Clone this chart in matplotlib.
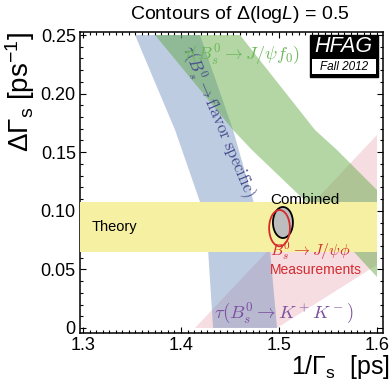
import numpy as np
import matplotlib.pyplot as plt
from matplotlib.patches import Ellipse, Rectangle
from matplotlib.ticker import MultipleLocator

plt.rcParams['font.family'] = ['Liberation Sans', 'DejaVu Sans']
plt.rcParams['mathtext.fontset'] = 'custom'
plt.rcParams['mathtext.rm'] = 'Liberation Sans'
plt.rcParams['mathtext.it'] = 'Liberation Sans:italic'
plt.rcParams['mathtext.bf'] = 'Liberation Sans:bold'

# tau(Bs -> flavour specific) band, left and right edges
fs_left_x = [1.3531, 1.3939, 1.4194, 1.4276, 1.4327]
fs_left_y = [0.25, 0.169, 0.1075, 0.0666, 0.0]
fs_right_x = [1.4194, 1.4531, 1.4735, 1.4908, 1.498]
fs_right_y = [0.25, 0.169, 0.109, 0.0666, 0.0]

# tau(Bs -> J/psi f0) band, lower and upper edges
f0_lo_x = [1.3735, 1.4531, 1.4724, 1.5418, 1.6]
f0_lo_y = [0.25, 0.169, 0.1519, 0.0964, 0.0435]
f0_hi_x = [1.4602, 1.5367, 1.5592, 1.6]
f0_hi_y = [0.25, 0.169, 0.1519, 0.1177]

# tau(Bs -> K+K-) wedge
kk_x = [1.4143, 1.6, 1.6, 1.498]
kk_y = [0.0, 0.1647, 0.0538, 0.0]

# theory band
theory_x = [1.297, 1.6]
theory_y = [0.0648, 0.1075]

# contours: centre, width, height
comb = (1.504, 0.090, 0.0204, 0.0265)
jpsiphi = (1.5005, 0.0852, 0.0212, 0.0310)

fig = plt.figure(figsize=(3.91, 3.82), dpi=100)
ax = fig.add_axes([0.2046, 0.1283, 0.7749, 0.7879])

ax.fill(kk_x, kk_y, color='#e6aab6', alpha=0.4, lw=0, zorder=1)
ax.fill(fs_left_x + fs_right_x[::-1], fs_left_y + fs_right_y[::-1],
        color='#6f8ebf', alpha=0.45, lw=0, zorder=2)
ax.fill(f0_lo_x + f0_hi_x[::-1], f0_lo_y + f0_hi_y[::-1],
        color='#58a637', alpha=0.45, lw=0, zorder=3)
ax.fill([theory_x[0], theory_x[1], theory_x[1], theory_x[0]],
        [theory_y[0], theory_y[0], theory_y[1], theory_y[1]],
        color='#f6f0a2', lw=0, zorder=4)

ax.add_patch(Ellipse(comb[:2], comb[2], comb[3], facecolor='#bdbdbd',
                     edgecolor='black', lw=1.3, zorder=5))
ax.add_patch(Ellipse(jpsiphi[:2], jpsiphi[2], jpsiphi[3], facecolor='none',
                     edgecolor='#d42a2e', lw=1.3, zorder=6))

ax.text(1.4375, 0.176, r'$\tau(B_s^0 \rightarrow \mathrm{flavor\ specific})$',
        math_fontfamily='cm', fontsize=12, color='#464a8c', rotation=-67,
        rotation_mode='anchor', ha='center', va='center', zorder=7)
ax.text(1.4612, 0.233, r'$\tau(B_s^0 \rightarrow J/\psi f_0)$',
        math_fontfamily='cm', fontsize=13, color='#6ab75a',
        ha='center', va='center', zorder=7)
ax.text(1.5265, 0.1092, 'Combined', fontsize=11, color='black',
        ha='center', va='center', zorder=7)
ax.text(1.5316, 0.0660, r'$B_s^0 \rightarrow J/\psi\phi$',
        math_fontfamily='cm', fontsize=11.5, color='#d42a2e',
        ha='center', va='center', zorder=7)
ax.text(1.5378, 0.0497, 'Measurements', fontsize=10, color='#d42a2e',
        ha='center', va='center', zorder=7)
ax.text(1.3316, 0.0862, 'Theory', fontsize=10.5, color='black',
        ha='center', va='center', zorder=7)
ax.text(1.5051, 0.0128, r'$\tau(B_s^0 \rightarrow K^+K^-)$',
        math_fontfamily='cm', fontsize=13.5, color='#7d50a0',
        ha='center', va='center', zorder=7)

# HFAG logo
ax.add_patch(Rectangle((0.759, 0.850), 0.224, 0.140, transform=ax.transAxes,
                       facecolor='black', edgecolor='black', zorder=8))
ax.add_patch(Rectangle((0.766, 0.860), 0.211, 0.050, transform=ax.transAxes,
                       facecolor='white', edgecolor='none', zorder=9))
ax.text(0.871, 0.951, 'HFAG', transform=ax.transAxes, fontsize=15.5,
        fontstyle='italic', color='white', ha='center', va='center', zorder=10)
ax.text(0.871, 0.885, 'Fall 2012', transform=ax.transAxes, fontsize=8.5,
        fontstyle='italic', color='black', ha='center', va='center', zorder=10)

ax.set_xlim(1.2969, 1.6061)
ax.set_ylim(-0.0043, 0.2526)
ax.set_xticks([1.3, 1.4, 1.5, 1.6])
ax.set_xticklabels(['1.3', '1.4', '1.5', '1.6'])
ax.set_yticks([0, 0.05, 0.10, 0.15, 0.20, 0.25])
ax.set_yticklabels(['0', '0.05', '0.10', '0.15', '0.20', '0.25'])
ax.xaxis.set_minor_locator(MultipleLocator(0.1 / 15))
ax.yaxis.set_minor_locator(MultipleLocator(0.01))
ax.tick_params(which='both', direction='in', top=True, right=True,
               labelsize=13, width=0.8, pad=3)
ax.tick_params(which='major', length=4.5)
ax.tick_params(which='minor', length=2)
for s in ax.spines.values():
    s.set_linewidth(1.1)

fig.text(0.614, 0.963, r'Contours of $\Delta$(log$L$) = 0.5', fontsize=14,
         ha='center', va='center')
fig.text(0.052, 0.76, r'$\Delta\Gamma_\mathrm{s}$ [ps$^\mathrm{-1}$]',
         fontsize=20, rotation=90, ha='center', va='center')
fig.text(0.87, 0.039, r'1/$\Gamma_\mathrm{s}$  [ps]', fontsize=18,
         ha='center', va='center')

fig.savefig('out.png', dpi=100)
